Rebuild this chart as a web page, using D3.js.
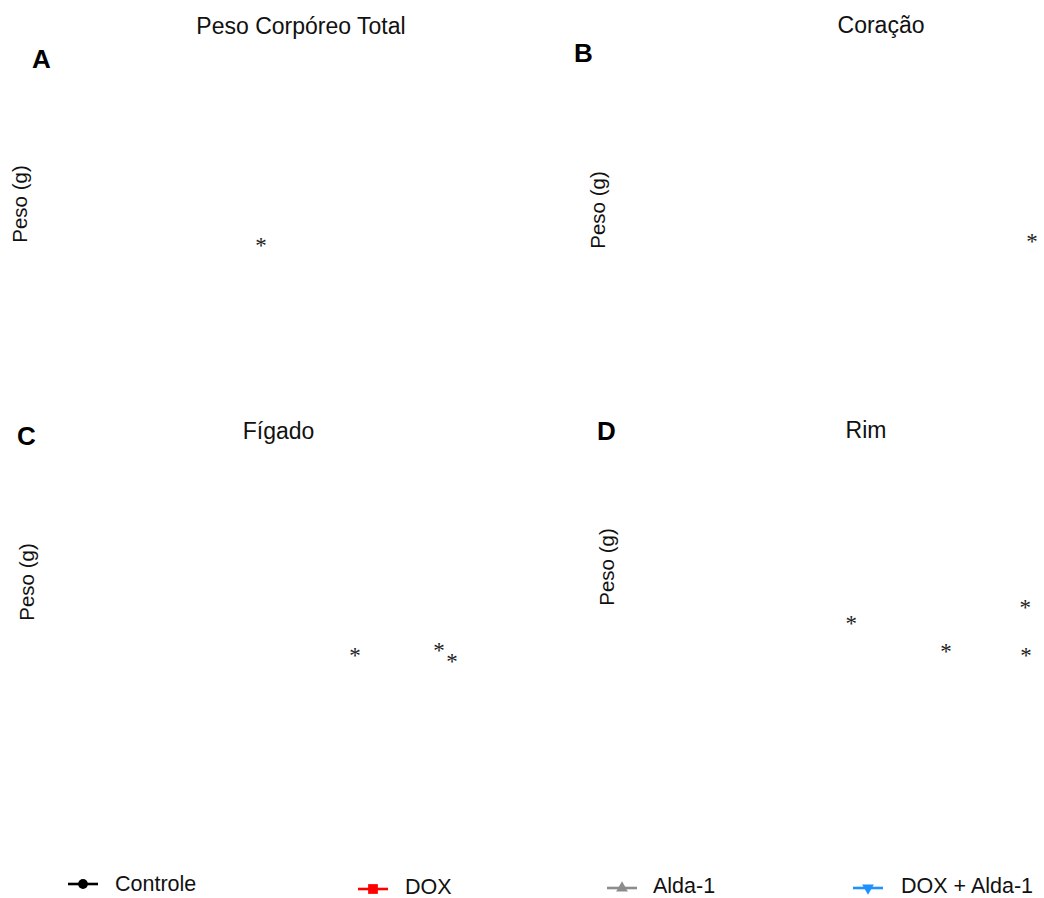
<!DOCTYPE html>
<html>
<head>
<meta charset="utf-8">
<script src="https://cdn.jsdelivr.net/npm/d3@7"></script>
<style>
  html, body { margin: 0; padding: 0; background: #fff; }
  svg { display: block; font-family: "Liberation Sans", Arial, sans-serif; }
</style>
</head>
<body>
<svg id="chart" width="1044" height="898"></svg>
<script>
// Panel definitions
const panelLetters = ["A", "B", "C", "D"];
const panelTitles = ["Peso Corpóreo Total", "Coração", "Fígado", "Rim"];
const yAxisLabel = "Peso (g)";

// Value domains (x: semana, y: peso em gramas)
const xDomain = [0, 10];
const yDomains = [[0, 400], [0, 2], [0, 20], [0, 3]];

// Significance markers (semana, peso) per panel
const sigA = [{ x: 4.31, y: 179.4 }];
const sigB = [{ x: 9.8, y: 0.923 }];
const sigC = [{ x: 6.55, y: 7.03 }, { x: 8.55, y: 7.35 }, { x: 8.86, y: 6.65 }];
const sigD = [{ x: 5.28, y: 1.365 }, { x: 7.65, y: 1.094 }, { x: 9.63, y: 1.519 }, { x: 9.65, y: 1.055 }];
const sigMarks = [sigA, sigB, sigC, sigD];

// Legend groups
const groups = ["Controle", "DOX", "Alda-1", "DOX + Alda-1"];
const groupColors = ["#000000", "#ff0000", "#8c8c8c", "#1e90ff"];
const groupSymbols = [d3.symbolCircle, d3.symbolSquare, d3.symbolTriangle, d3.symbolTriangle];
const groupSymbolSizes = [75, 95, 60, 60];

const svg = d3.select("#chart");

// Layout of each panel
const layout = [
  { plot: [80, 500, 70, 380],  title: [301, 34],  letter: [32, 68],  ylab: [27, 204] },
  { plot: [640, 1040, 70, 380], title: [881, 33], letter: [574, 62], ylab: [605, 210] },
  { plot: [80, 500, 450, 760], title: [278.5, 439], letter: [17, 445], ylab: [34, 582] },
  { plot: [640, 1040, 450, 760], title: [866, 438], letter: [597, 440], ylab: [614, 567] }
];

layout.forEach((L, i) => {
  const g = svg.append("g").attr("class", "panel");
  const x = d3.scaleLinear().domain(xDomain).range([L.plot[0], L.plot[1]]);
  const y = d3.scaleLinear().domain(yDomains[i]).range([L.plot[3], L.plot[2]]);

  g.append("text")
    .attr("x", L.title[0]).attr("y", L.title[1])
    .attr("text-anchor", "middle")
    .attr("font-size", 23)
    .attr("fill", "#111")
    .text(panelTitles[i]);

  g.append("text")
    .attr("x", L.letter[0]).attr("y", L.letter[1])
    .attr("font-size", 26)
    .attr("font-weight", "bold")
    .attr("fill", "#000")
    .text(panelLetters[i]);

  g.append("text")
    .attr("transform", `translate(${L.ylab[0]},${L.ylab[1]}) rotate(-90)`)
    .attr("text-anchor", "middle")
    .attr("font-size", 20.5)
    .attr("fill", "#111")
    .text(yAxisLabel);

  g.selectAll("text.sig")
    .data(sigMarks[i])
    .join("text")
    .attr("class", "sig")
    .attr("x", d => x(d.x))
    .attr("y", d => y(d.y) + 12)
    .attr("text-anchor", "middle")
    .attr("font-family", "'Liberation Serif', 'Times New Roman', serif")
    .attr("font-size", 23)
    .attr("fill", "#222")
    .text("*");
});

// Legend
const legendPos = [
  { x: 68, line: 884, base: 891 },
  { x: 358, line: 889, base: 894 },
  { x: 607, line: 888, base: 893 },
  { x: 853, line: 888, base: 893 }
];

groups.forEach((name, i) => {
  const p = legendPos[i];
  const lg = svg.append("g").attr("class", "legend-item");
  lg.append("line")
    .attr("x1", p.x).attr("x2", p.x + 30)
    .attr("y1", p.line).attr("y2", p.line)
    .attr("stroke", groupColors[i])
    .attr("stroke-width", 2.6);
  const rot = i === 3 ? 180 : 0;
  lg.append("path")
    .attr("d", d3.symbol().type(groupSymbols[i]).size(groupSymbolSizes[i])())
    .attr("transform", `translate(${p.x + 15},${p.line}) rotate(${rot})`)
    .attr("fill", groupColors[i]);
  lg.append("text")
    .attr("x", p.x + (i === 2 ? 46 : i === 3 ? 48 : 47))
    .attr("y", p.base)
    .attr("font-size", 21.5)
    .attr("fill", "#111")
    .text(name);
});
</script>
</body>
</html>
